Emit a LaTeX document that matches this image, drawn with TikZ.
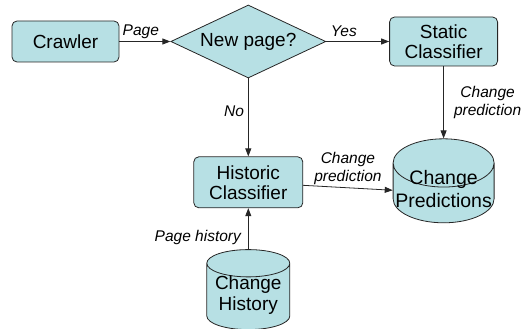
\documentclass[tikz,border=0pt]{standalone}
\usepackage{fontspec}
\setmainfont{Liberation Sans}
\usepackage{tikz}
\usetikzlibrary{arrows.meta,shapes.geometric}
\usetikzlibrary{positioning}
\definecolor{boxfill}{RGB}{183,224,228}

\begin{document}
\begin{tikzpicture}[x=1pt,y=-1pt,line width=0.8pt,>={Triangle[length=8pt,width=6pt]},
  procbox/.style={draw=black!85, fill=boxfill, rounded corners=5pt, align=center, inner sep=0pt, font=\fontsize{19}{20}\selectfont},
  decision/.style={diamond, aspect=2.1, draw=black!85, fill=boxfill, inner sep=0pt, minimum width=155pt, minimum height=73pt, font=\fontsize{19}{20}\selectfont},
  store/.style={cylinder, shape border rotate=90, draw=black!85, fill=boxfill, align=center, inner sep=0pt, text height=2pt, text depth=0pt},
  flow/.style={->, draw=black!85},
  lbl/.style={inner sep=0pt, align=center, font=\fontsize{15.5}{18}\selectfont\itshape}]

\useasboundingbox (0,0) rectangle (527,329);

\node[procbox, minimum width=107pt, minimum height=41pt] (crawler) at (65.5,41.5) {Crawler};
\node[decision] (newpage) [right=51pt of crawler] {New page?};
\node[procbox, minimum width=108pt, minimum height=49pt] (static) [right=63pt of newpage] {Static\\Classifier};
\node[procbox, minimum width=109pt, minimum height=51pt] (historic) [below=78pt of newpage] {Historic\\Classifier};
\node[store, aspect=0.41, minimum width=83pt, minimum height=80pt, font=\fontsize{19}{20.5}\selectfont] (changehist) [below=41pt of historic] {\raisebox{-12.5pt}{Change}\\\raisebox{-12.5pt}{History}};
\node[store, aspect=0.5, minimum width=101pt, minimum height=84pt, font=\fontsize{19.5}{23}\selectfont] (predictions) [below=72pt of static] {\raisebox{-13pt}{Change}\\\raisebox{-13pt}{Predictions}};

\draw[flow] (crawler) -- node[lbl, above=2.5pt, pos=0.42] (lpage) {Page} (newpage);
\draw[flow] (newpage) -- node[lbl, above=4pt, pos=0.28] (lyes) {Yes} (static);
\draw[flow] (newpage) -- node[lbl, left=4pt, pos=0.42] (lno) {No} (historic);
\draw[flow] (static) -- node[lbl, right=10pt, pos=0.5] (lstatic) {Change\\prediction} (predictions);
\draw[flow] (historic) -- node[lbl, above=3pt, pos=0.5] (lhistoric) {Change\\prediction} (predictions);
\draw[flow] (changehist) -- node[lbl, left=7pt, pos=0.29] (lhist) {Page history} (historic);

\end{tikzpicture}
\end{document}
